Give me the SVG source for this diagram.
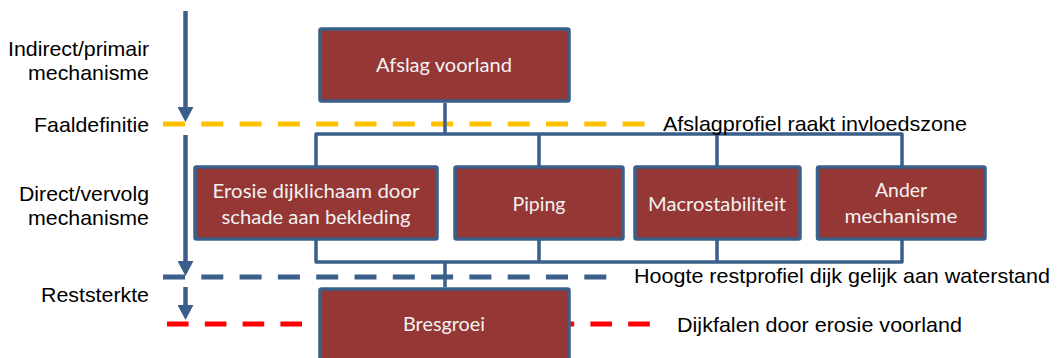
<svg xmlns="http://www.w3.org/2000/svg" width="1058" height="358" viewBox="0 0 1058 358">
  <style>
    .lbl { font-family: "Liberation Sans", Arial, sans-serif; font-size: 21px; fill: #000; }
    .box { fill: #953735; stroke: #3A5F8B; stroke-width: 3.5; }
    .btxt { font-family: Lato, "Open Sans", sans-serif; font-size: 19.5px; fill: #F2F2F2; text-anchor: middle; }
    .conn { fill: none; stroke: #3A5F8B; stroke-width: 3.5; stroke-linejoin: round; }
    .dash { fill: none; stroke-width: 5; stroke-dasharray: 22 16.3; }
    .arrow { stroke: #3A5F8B; stroke-width: 4.5; fill: none; marker-end: url(#ah); }
  </style>
  <defs>
    <marker id="ah" viewBox="0 0 15 16" refX="5" refY="8" markerWidth="15" markerHeight="16" markerUnits="userSpaceOnUse" orient="auto">
      <path d="M0,0 L15,8 L0,16 Z" fill="#3A5F8B"/>
    </marker>
  </defs>
  <rect width="1058" height="358" fill="#fff"/>

  <g id="levels">
    <path class="dash" d="M163,124 H645" stroke="#FFC000"/>
    <path class="dash" d="M163,277 H608" stroke="#3A5F8B"/>
    <path class="dash" d="M167,324 H302" stroke="#FF0000" style="stroke-dasharray:21.6 16.2"/>
    <path class="dash" d="M552.6,324 H650" stroke="#FF0000" style="stroke-dasharray:21.6 16.2"/>
  </g>

  <g id="arrows">
    <line class="arrow" x1="185.5" y1="11" x2="185.5" y2="112"/>
    <line class="arrow" x1="185.5" y1="135" x2="185.5" y2="266"/>
    <line class="arrow" x1="185.5" y1="287" x2="185.5" y2="310"/>
  </g>

  <g id="connectors">
    <path class="conn" d="M445,103 V134 M316,166 V134 H902 V166 M539,134 V166 M717,134 V166"/>
    <path class="conn" d="M316,240 V262 H902 V240 M539,240 V262 M717,240 V262 M445,262 V287"/>
  </g>

  <g id="node-afslag">
    <rect class="box" x="320" y="29" width="249" height="72" rx="1.5"/>
    <text class="btxt" x="444" y="72" textLength="136" lengthAdjust="spacingAndGlyphs">Afslag voorland</text>
  </g>
  <g id="node-erosie">
    <rect class="box" x="195" y="167" width="242" height="72" rx="1.5"/>
    <text class="btxt" x="316" y="198" textLength="207" lengthAdjust="spacingAndGlyphs">Erosie dijklichaam door</text>
    <text class="btxt" x="316" y="224" textLength="189" lengthAdjust="spacingAndGlyphs">schade aan bekleding</text>
  </g>
  <g id="node-piping">
    <rect class="box" x="455" y="167" width="168" height="72" rx="1.5"/>
    <text class="btxt" x="539" y="211" textLength="53" lengthAdjust="spacingAndGlyphs">Piping</text>
  </g>
  <g id="node-macro">
    <rect class="box" x="635" y="167" width="165" height="72" rx="1.5"/>
    <text class="btxt" x="717" y="211" textLength="138" lengthAdjust="spacingAndGlyphs">Macrostabiliteit</text>
  </g>
  <g id="node-ander">
    <rect class="box" x="817.5" y="167" width="167.5" height="72" rx="1.5"/>
    <text class="btxt" x="901" y="197" textLength="52" lengthAdjust="spacingAndGlyphs">Ander</text>
    <text class="btxt" x="901" y="223" textLength="113" lengthAdjust="spacingAndGlyphs">mechanisme</text>
  </g>
  <g id="node-bresgroei">
    <rect class="box" x="320" y="289" width="249" height="80" rx="1.5"/>
    <text class="btxt" x="444" y="331" textLength="82" lengthAdjust="spacingAndGlyphs">Bresgroei</text>
  </g>

  <g id="labels-left" text-anchor="end">
    <text class="lbl" x="149" y="56" textLength="141" lengthAdjust="spacingAndGlyphs">Indirect/primair</text>
    <text class="lbl" x="149" y="80" textLength="121" lengthAdjust="spacingAndGlyphs">mechanisme</text>
    <text class="lbl" x="149" y="131.5" textLength="115" lengthAdjust="spacingAndGlyphs">Faaldefinitie</text>
    <text class="lbl" x="149" y="200.5" textLength="130" lengthAdjust="spacingAndGlyphs">Direct/vervolg</text>
    <text class="lbl" x="149" y="225" textLength="121" lengthAdjust="spacingAndGlyphs">mechanisme</text>
    <text class="lbl" x="149" y="301.5" textLength="108" lengthAdjust="spacingAndGlyphs">Reststerkte</text>
  </g>

  <g id="labels-right">
    <text class="lbl" x="663" y="130.5" textLength="304" lengthAdjust="spacingAndGlyphs">Afslagprofiel raakt invloedszone</text>
    <text class="lbl" x="634" y="283.3" textLength="416" lengthAdjust="spacingAndGlyphs">Hoogte restprofiel dijk gelijk aan waterstand</text>
    <text class="lbl" x="677" y="331.5" textLength="285" lengthAdjust="spacingAndGlyphs">Dijkfalen door erosie voorland</text>
  </g>
</svg>
